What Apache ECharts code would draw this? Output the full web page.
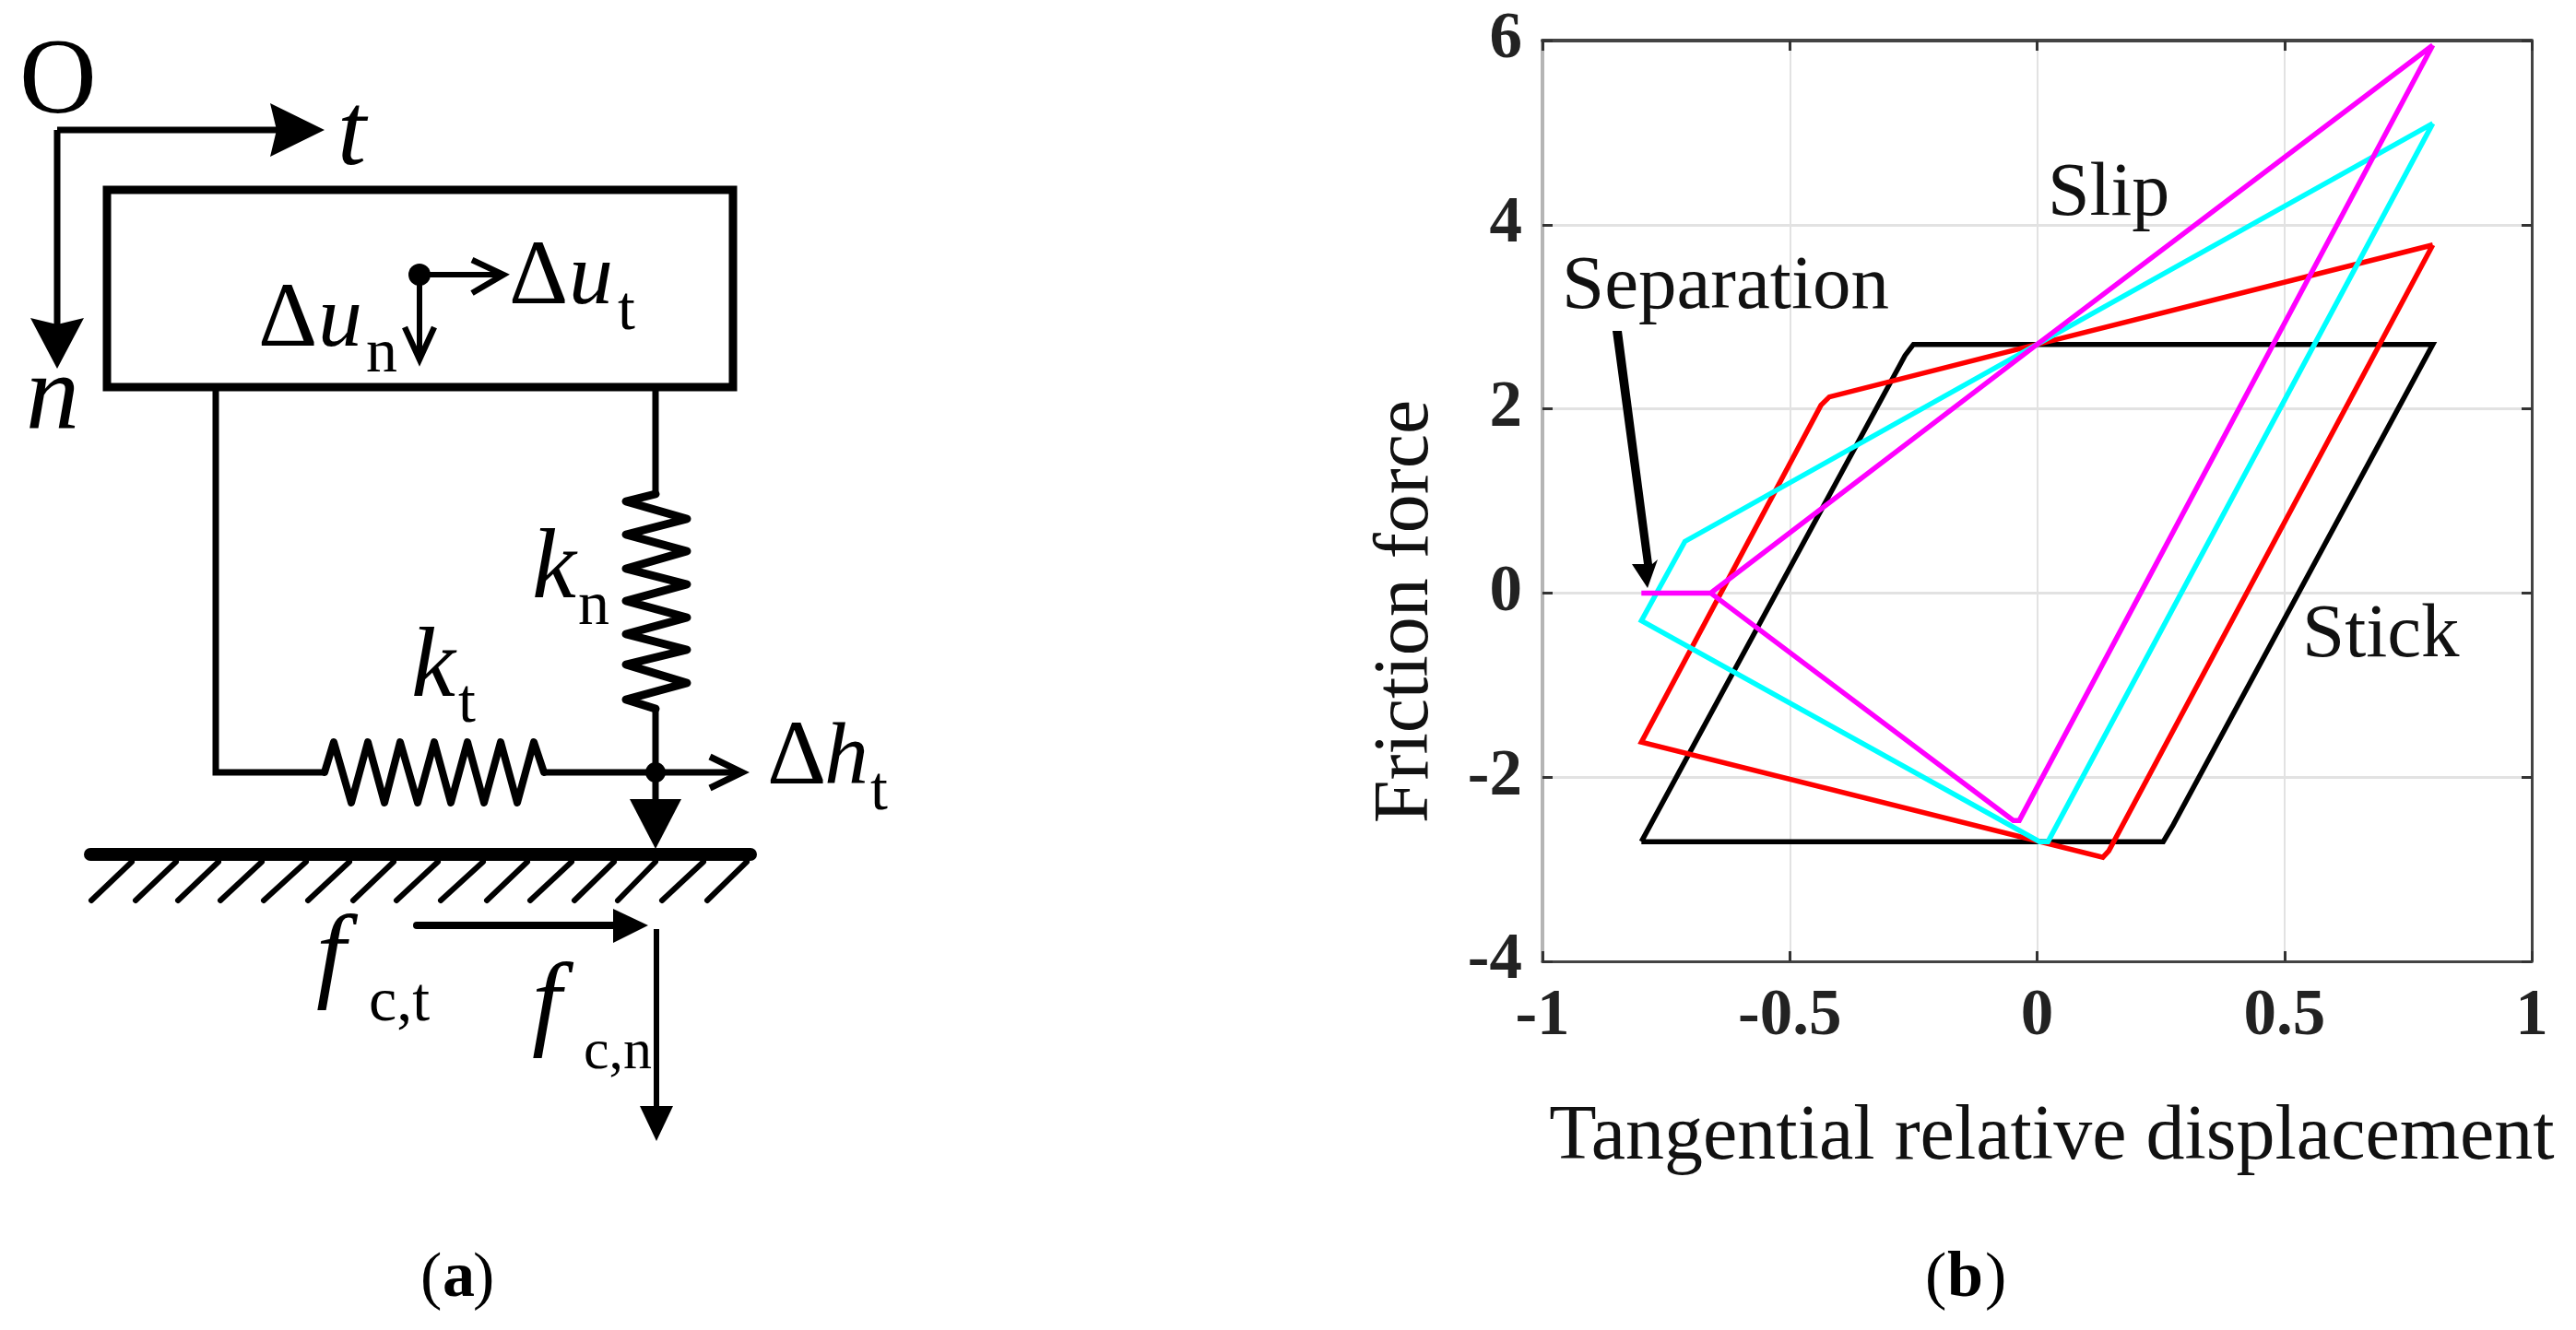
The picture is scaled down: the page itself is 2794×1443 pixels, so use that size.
<!DOCTYPE html>
<html><head><meta charset="utf-8">
<style>html,body{margin:0;padding:0;background:#fff}#c{width:2794px;height:1443px}</style>
<script src="https://cdn.jsdelivr.net/npm/echarts@6/dist/echarts.min.js"></script>
</head><body><div id="c"></div>
<script>
// ---- chart data (friction force vs. tangential relative displacement) ----
const stick = [[-0.8,-2.7],[-0.267,2.58],[-0.25,2.7],[0.8,2.7],[0.275,-2.52],[0.255,-2.7],[-0.8,-2.7]];
const red = [[0.8,3.78],[0,2.7],[-0.42,2.13],[-0.437,2.04],[-0.8,-1.62],[0.133,-2.87],[0.145,-2.8],[0.8,3.78]];
const cyan = [[0.8,5.1],[0,2.7],[-0.712,0.56],[-0.8,-0.3],[0.005,-2.7],[0.022,-2.7],[0.8,5.1]];
const magenta = [[0.8,5.95],[0,2.7],[-0.66,0],[-0.8,0],[-0.66,0],[-0.048,-2.47],[-0.036,-2.47],[0.8,5.95]];
const xName = 'Tangential relative displacement';
const yName = 'Friction force';

// ---- panel (a) schematic geometry, in page pixels ----
const wireN = [[711,424],[711,536]];
const springN = [[711,536],[679,544],[745,563],[679,580],[745,598],[679,617],[745,634],[679,652],[745,670],[679,688],[745,705],[679,721],[745,741],[679,759],[711,769]];
const wireNLow = [[711,769],[711,868]];
const wireT = [[234,424],[234,838],[352,838]];
const springT = [[352,838],[362,805],[381,871],[399,805],[417,871],[434,805],[453,871],[471,805],[489,871],[507,805],[525,871],[543,805],[561,871],[579,805],[590,838]];
const wireTLow = [[590,838],[800,838]];
const hatchTop = [143,191,237,284,332,379,427,475,524,572,620,666,711,763,810];
const hatchBottom = [99,147,193,239,286,334,383,430,478,528,575,623,670,718,767];
const blackFont = '"Liberation Serif","Times New Roman",serif';

const gfx = [];
function line(pts, w, cap){ gfx.push({type:'polyline',shape:{points:pts},style:{stroke:'#000',lineWidth:w,fill:null,lineCap:cap||'butt',lineJoin:cap?'round':'miter'},z:5}); }
function poly(pts){ gfx.push({type:'polygon',shape:{points:pts},style:{fill:'#000'},z:6}); }
function dot(x,y,r){ gfx.push({type:'circle',shape:{cx:x,cy:y,r:r},style:{fill:'#000'},z:6}); }
function txt(t,x,base,size,opts){ opts=opts||{};
  gfx.push({type:'text',z:7,style:{text:t,x:x,y:base-0.28*size,verticalAlign:'middle',textVerticalAlign:'middle',
    textAlign:opts.align||'left',fill:opts.fill||'#000',
    font:(opts.it?'italic ':'')+(opts.b?'bold ':'')+size+'px '+blackFont}});
}
// axes at the origin
line([[62,141],[300,141]],7); poly([[352,141],[293,112],[300,141],[293,170]]);
line([[62,141],[62,352]],7); poly([[62,400],[33,345],[62,352],[91,345]]);
// block
gfx.push({type:'rect',shape:{x:116,y:206,width:679,height:214},style:{stroke:'#000',lineWidth:9,fill:null},z:5});
// springs
line(wireN,7); line(springN,9,'round'); line(wireNLow,7);
line(wireT,7); line(springT,8,'round'); line(wireTLow,7);
poly([[683,867],[739,867],[711,921]]);
dot(711,838,11);
line([[770,821],[805,838],[770,855]],7);
// ground
line([[98,927],[814,927]],14,'round');
hatchTop.forEach((t,i)=>line([[t,935],[hatchBottom[i],977]],6,'round'));
// contact forces
line([[452,1004],[668,1004]],8,'round'); poly([[703,1004],[665,986],[665,1023]]);
line([[712,1008],[712,1202]],6); poly([[712,1238],[694,1200],[730,1200]]);
// block reference point
dot(455,298,12);
line([[455,298],[544,298]],6); line([[512,282],[546,298],[512,318]],6.5);
line([[455,298],[455,388]],6); line([[439,355],[455,390],[471,355]],6.5);
// separation pointer
poly([[1749,359],[1759,359],[1792,612],[1798,607],[1787,638],[1770,612],[1783,612]]);

// panel (a) labels
txt('O',21,124,116);
txt('t',366,180,112,{it:1});
txt('n',28,466,116,{it:1});
txt('Δ',280,377,100); txt('u',345,377,96,{it:1}); txt('n',397,404,68);
txt('Δ',552,331,100); txt('u',617,331,96,{it:1}); txt('t',670,358,68);
txt('k',577,650,108,{it:1}); txt('n',627,678,68);
txt('k',446,757,108,{it:1}); txt('t',497,784,68);
txt('Δ',832,852,100); txt('h',894,852,96,{it:1}); txt('t',944,879,68);
txt('f',343,1074,115,{it:1}); txt('c,t',400,1108,68);
txt('f',577,1126,115,{it:1}); txt('c,n',633,1160,62);
// captions
txt('(',456,1408,70); txt('a',480,1408,70,{b:1}); txt(')',513,1408,70);
txt('(',2088,1408,70); txt('b',2112,1408,70,{b:1}); txt(')',2153,1408,70);
// panel (b) annotations
txt('Slip',2221,234,82,{fill:'#111'});
txt('Separation',1694,335,83,{fill:'#111'});
txt('Stick',2497,713,83,{fill:'#111'});

const chart = echarts.init(document.getElementById('c'),null,{renderer:'canvas'});
const grid = {left:1673,right:48,top:44,bottom:400,containLabel:false};
const lab = {fontFamily:blackFont,fontWeight:'bold',fontSize:71,color:'#222'};
const mk = (name,color)=>(d)=>({name:name,type:'line',data:d,showSymbol:false,symbol:'none',smooth:false,animation:false,
  clip:false,lineStyle:{color:color,width:5.5,join:'miter'},z:3});
chart.setOption({
  animation:false,backgroundColor:'#fff',
  grid:grid,
  xAxis:[
    {type:'value',min:-1,max:1,interval:0.5,position:'bottom',name:xName,nameLocation:'middle',nameGap:150,
     nameTextStyle:{fontFamily:blackFont,fontSize:84,color:'#111',padding:[0,0,0,32]},
     axisLine:{show:true,onZero:false,lineStyle:{color:'#444',width:3}},
     axisTick:{show:true,inside:true,length:11,lineStyle:{color:'#333',width:3}},
     axisLabel:Object.assign({margin:25},lab),
     splitLine:{show:true,lineStyle:{color:'#e2e2e2',width:2}}},
    {type:'value',min:-1,max:1,interval:0.5,position:'top',
     axisLine:{show:true,onZero:false,lineStyle:{color:'#444',width:4}},
     axisTick:{show:true,inside:true,length:11,lineStyle:{color:'#333',width:3}},
     axisLabel:{show:false},splitLine:{show:false}}
  ],
  yAxis:[
    {type:'value',min:-4,max:6,interval:2,position:'left',name:yName,nameLocation:'middle',nameGap:105,nameRotate:90,
     nameTextStyle:{fontFamily:blackFont,fontSize:84,color:'#111',padding:[0,240,0,0]},
     axisLine:{show:true,onZero:false,lineStyle:{color:'#b5b5b5',width:4}},
     axisTick:{show:true,inside:true,length:11,lineStyle:{color:'#333',width:3}},
     axisLabel:Object.assign({margin:22},lab),
     splitLine:{show:true,lineStyle:{color:'#e2e2e2',width:3}}},
    {type:'value',min:-4,max:6,interval:2,position:'right',
     axisLine:{show:true,onZero:false,lineStyle:{color:'#444',width:3}},
     axisTick:{show:true,inside:true,length:11,lineStyle:{color:'#333',width:3}},
     axisLabel:{show:false},splitLine:{show:false}}
  ],
  series:[
    mk('Stick','#000')(stick),
    mk('Red','#ff0000')(red),
    mk('Cyan','#00ffff')(cyan),
    mk('Magenta','#ff00ff')(magenta)
  ],
  graphic:{elements:gfx}
});
</script></body></html>
